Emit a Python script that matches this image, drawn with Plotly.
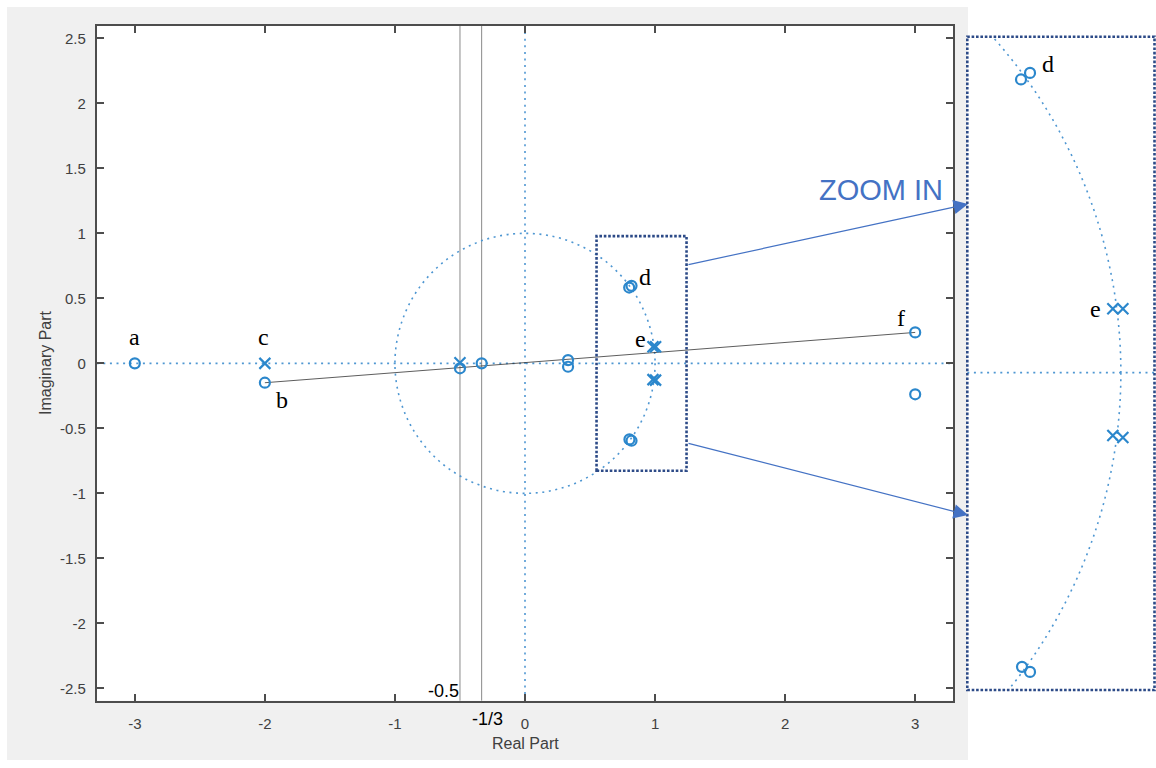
import plotly.graph_objects as go

W, H = 1156, 768

# ---------------- data ----------------
zero_re = [-3.0, -2.0, -0.5, -1/3, 0.331, 0.331, 0.801, 0.819, 0.803, 0.819, 3.0, 3.0]
zero_im = [0.0, -0.149, -0.038, 0.0, 0.025, -0.026, 0.583, 0.596, -0.585, -0.595, 0.238, -0.238]
pole_re = [-2.0, -0.5, 0.984, 1.004, 0.984, 1.004]
pole_im = [0.0, 0.005, 0.127, 0.127, -0.125, -0.129]

x_ticks = [-3, -2, -1, 0, 1, 2, 3]
x_ticklabels = ["-3", "-2", "-1", "0", "1", "2", "3"]
y_ticks = [2.5, 2, 1.5, 1, 0.5, 0, -0.5, -1, -1.5, -2, -2.5]
y_ticklabels = ["2.5", "2", "1.5", "1", "0.5", "0", "-0.5", "-1", "-1.5", "-2", "-2.5"]

guide_x = [-0.5, -1/3]
guide_labels = ["-0.5", "-1/3"]

link_pair = (1, 10)            # zero "b" joined to zero "f"
zoom_box_re = [0.55, 1.242]    # region that is zoomed
zoom_box_im = [-0.826, 0.979]
zoom_range_re = [0.694, 1.067]
zoom_range_im = [-0.631, 0.668]

point_labels = ["a", "c", "b", "d", "e", "f", "d", "e"]
# ---------------------------------------------------------------

def px(x):
    return x / W

def py(y):
    return 1 - y / H

MARK = "#2b87cc"
DOT = "#4f97d2"
NAVY = "#2c4a87"
ARROW = "#4472c4"
AXC = "#4d4d4d"

fig = go.Figure()

# link line b -> f
i, j = link_pair
fig.add_trace(go.Scatter(x=[zero_re[i], zero_re[j]], y=[zero_im[i], zero_im[j]],
                         mode="lines", line=dict(color="#333333", width=0.8),
                         hoverinfo="skip", showlegend=False))
for xa, ya in (("x", "y"), ("x2", "y2")):
    fig.add_trace(go.Scatter(x=zero_re, y=zero_im, mode="markers", xaxis=xa, yaxis=ya,
                             marker=dict(symbol="circle-open", size=10, color=MARK,
                                         line=dict(width=2.2, color=MARK)),
                             showlegend=False))
    fig.add_trace(go.Scatter(x=pole_re, y=pole_im, mode="markers", xaxis=xa, yaxis=ya,
                             marker=dict(symbol="x-thin-open", size=11, color=MARK,
                                         line=dict(width=2.2, color=MARK)),
                             showlegend=False))

shapes = []
# grey figure background and white surroundings
shapes += [
    dict(type="rect", xref="paper", yref="paper", x0=px(968), x1=1, y0=0, y1=1,
         fillcolor="white", line=dict(width=0), layer="below"),
    dict(type="rect", xref="paper", yref="paper", x0=0, x1=1, y0=py(7), y1=1,
         fillcolor="white", line=dict(width=0), layer="below"),
    dict(type="rect", xref="paper", yref="paper", x0=0, x1=px(7), y0=0, y1=1,
         fillcolor="white", line=dict(width=0), layer="below"),
    dict(type="rect", xref="paper", yref="paper", x0=0, x1=1, y0=0, y1=py(760),
         fillcolor="white", line=dict(width=0), layer="below"),
]
dotline = dict(color=DOT, width=1.6, dash="2px,4.6px")
# main: unit circle, zero axes
shapes += [
    dict(type="circle", xref="x", yref="y", x0=-1, x1=1, y0=-1, y1=1, line=dotline, layer="below"),
    dict(type="line", xref="x domain", yref="y", x0=0, x1=1, y0=0, y1=0, line=dotline, layer="below"),
    dict(type="line", xref="x", yref="y domain", x0=0, x1=0, y0=0, y1=1, line=dotline, layer="below"),
]
for gx in guide_x:
    shapes.append(dict(type="line", xref="x", yref="y domain", x0=gx, x1=gx, y0=0, y1=1,
                       line=dict(color="#6b6b6b", width=0.8), layer="below"))
navy = dict(color=NAVY, width=2.6, dash="2.6px,1.8px")
shapes.append(dict(type="rect", xref="x", yref="y", x0=zoom_box_re[0], x1=zoom_box_re[1],
                   y0=zoom_box_im[0], y1=zoom_box_im[1], line=navy))
# zoom panel
shapes += [
    dict(type="circle", xref="x2", yref="y2", x0=-1, x1=1, y0=-1, y1=1, line=dotline, layer="below"),
    dict(type="line", xref="x2 domain", yref="y2", x0=0, x1=1, y0=0, y1=0, line=dotline, layer="below"),
    dict(type="rect", xref="paper", yref="paper", x0=px(967.3), x1=px(1154.5),
         y0=py(690), y1=py(36.7), line=navy),
]

ann = []
lab_pos = [(134, 345), (263, 345), (282, 408), (645, 285), (640, 347), (901, 326), (1048, 72), (1095, 317)]
for t, (lx, lb) in zip(point_labels, lab_pos):
    ann.append(dict(text=t, xref="paper", yref="paper", x=px(lx), y=py(lb - 8),
                    xanchor="center", yanchor="middle", showarrow=False,
                    font=dict(family="Liberation Serif", size=24, color="black")))
gpos = [(443, 691), (487, 719)]
for t, (gx, gy) in zip(guide_labels, gpos):
    ann.append(dict(text=t, xref="paper", yref="paper", x=px(gx), y=py(gy),
                    xanchor="center", yanchor="middle", showarrow=False,
                    font=dict(family="Liberation Sans", size=18, color="black")))
ann.append(dict(text="ZOOM IN", xref="paper", yref="paper", x=px(880.5), y=py(190),
                xanchor="center", yanchor="middle", showarrow=False,
                font=dict(family="Liberation Sans", size=29, color=ARROW)))
for (hx, hy), (tx, ty) in (((968, 204), (687, 265)), ((968, 515), (687, 443))):
    ann.append(dict(text="", xref="paper", yref="paper", x=px(hx), y=py(hy),
                    ax=tx - hx, ay=ty - hy, showarrow=True, arrowhead=2, arrowsize=2.4,
                    arrowwidth=1.2, arrowcolor=ARROW, standoff=0))
ann.append(dict(text="Real Part", xref="paper", yref="paper", x=px(525), y=py(743),
                xanchor="center", yanchor="middle", showarrow=False,
                font=dict(family="Liberation Sans", size=16, color="#404040")))
ann.append(dict(text="Imaginary Part", xref="paper", yref="paper", x=px(45), y=py(363),
                xanchor="center", yanchor="middle", showarrow=False, textangle=-90,
                font=dict(family="Liberation Sans", size=16, color="#404040")))

axis_common = dict(showgrid=False, zeroline=False, showline=True, linecolor=AXC, linewidth=1.8,
                   mirror="ticks", ticks="inside", ticklen=7, tickwidth=1.5, tickcolor=AXC,
                   tickfont=dict(family="Liberation Sans", size=15, color="#404040"))

fig.update_layout(
    width=W, height=H, margin=dict(l=0, r=0, t=0, b=0),
    paper_bgcolor="#f0f0f0", plot_bgcolor="white",
    xaxis=dict(domain=[px(96.7), px(953.3)], range=[-3.293, 3.293], tickmode="array",
               tickvals=x_ticks, ticktext=x_ticklabels, ticklabelstandoff=8, anchor="y",
               **axis_common),
    yaxis=dict(domain=[py(700.7), py(26)], range=[-2.595, 2.595], tickmode="array",
               tickvals=y_ticks, ticktext=y_ticklabels, ticklabelstandoff=6, anchor="x",
               **axis_common),
    xaxis2=dict(domain=[px(967.3), px(1154.5)], range=zoom_range_re, visible=False, anchor="y2"),
    yaxis2=dict(domain=[py(690), py(36.7)], range=zoom_range_im, visible=False, anchor="x2"),
    shapes=shapes, annotations=ann, showlegend=False,
)

fig.write_html("out.html", config={"displayModeBar": False},
               post_script="document.body.style.margin='0px';")
